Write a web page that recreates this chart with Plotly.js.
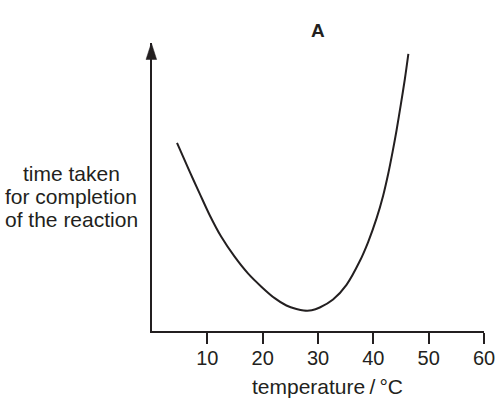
<!DOCTYPE html>
<html>
<head>
<meta charset="utf-8">
<script src="https://cdn.plot.ly/plotly-3.0.1.min.js"></script>
<style>html,body{margin:0;padding:0;background:#fff;}#chart{width:495px;height:404px;}</style>
</head>
<body>
<div id="chart"></div>
<script>
var temperature = [4.52, 6.79, 8.60, 10.41, 12.52, 14.93, 17.34, 19.76, 22.17, 24.29, 26.10, 27.42, 28.87, 30.32, 32.72, 35.15, 37.56, 39.06, 40.58, 41.77, 42.68, 43.48, 44.20, 44.98, 45.70, 46.33];
var timeTaken   = [65.3, 55.4, 47.8, 40.3, 32.7, 25.8, 20.0, 15.4, 11.4, 8.85, 7.64, 7.12, 7.19, 8.16, 10.94, 16.04, 24.3, 30.9, 39.1, 47.0, 54.5, 62.2, 69.7, 78.8, 87.5, 96.2];
var xTickVals = [10, 20, 30, 40, 50, 60];
var xTickText = ['10', '20', '30', '40', '50', '60'];
var yLabelLines = ['time taken', 'for completion', 'of the reaction'];

var ink = '#231f20';
var fontFam = 'Liberation Sans, Arial, sans-serif';

var trace = {
  x: temperature,
  y: timeTaken,
  type: 'scatter',
  mode: 'lines',
  line: {color: ink, width: 2, shape: 'spline', smoothing: 0.9},
  hoverinfo: 'skip'
};

var plotW = 332, plotH = 288, plotL = 152, plotT = 43;
function px2paperX(px) { return (px - plotL) / plotW; }
function px2paperY(py) { return (plotT + plotH - py) / plotH; }

var annotations = [
  {
    text: '<b>A</b>',
    xref: 'paper', yref: 'paper',
    x: px2paperX(318), y: px2paperY(30),
    xanchor: 'center', yanchor: 'middle',
    showarrow: false,
    font: {family: fontFam, size: 19, color: ink}
  },
  {
    text: 'temperature\u2009/\u2009°C',
    xref: 'paper', yref: 'paper',
    x: px2paperX(327), y: px2paperY(386),
    xanchor: 'center', yanchor: 'middle',
    showarrow: false,
    font: {family: fontFam, size: 21, color: ink}
  }
];
var lineY = [173, 196.5, 220];
yLabelLines.forEach(function (t, i) {
  annotations.push({
    text: t,
    xref: 'paper', yref: 'paper',
    x: px2paperX(71), y: px2paperY(lineY[i]),
    xanchor: 'center', yanchor: 'middle',
    showarrow: false,
    font: {family: fontFam, size: 21, color: ink}
  });
});

var hw = 5.3 / plotW, hl = 16.5 / plotH;
var layout = {
  width: 495,
  height: 404,
  margin: {l: plotL, r: 495 - plotL - plotW, t: plotT, b: 404 - plotT - plotH},
  paper_bgcolor: '#ffffff',
  plot_bgcolor: '#ffffff',
  showlegend: false,
  font: {family: fontFam, color: ink, size: 20},
  xaxis: {
    range: [0, 60],
    showline: true,
    linecolor: ink,
    linewidth: 2,
    showgrid: false,
    zeroline: false,
    ticks: 'outside',
    ticklen: 11,
    tickwidth: 2,
    tickcolor: ink,
    tickvals: xTickVals,
    ticktext: xTickText,
    ticklabeloverflow: 'allow',
    ticklabelstandoff: -3,
    tickfont: {family: fontFam, size: 20, color: ink}
  },
  yaxis: {
    range: [0, 100],
    showline: true,
    linecolor: ink,
    linewidth: 2,
    showgrid: false,
    zeroline: false,
    ticks: '',
    showticklabels: false
  },
  shapes: [{
    type: 'path',
    xref: 'paper', yref: 'paper',
    path: 'M' + (-0.002) + ',1 L' + (-0.002 - hw) + ',' + (1 - hl) + ' L' + (-0.002 + hw) + ',' + (1 - hl) + ' Z',
    fillcolor: ink,
    line: {color: ink, width: 0.5}
  }],
  annotations: annotations
};

Plotly.newPlot('chart', [trace], layout, {staticPlot: true, displayModeBar: false});
</script>
</body>
</html>
